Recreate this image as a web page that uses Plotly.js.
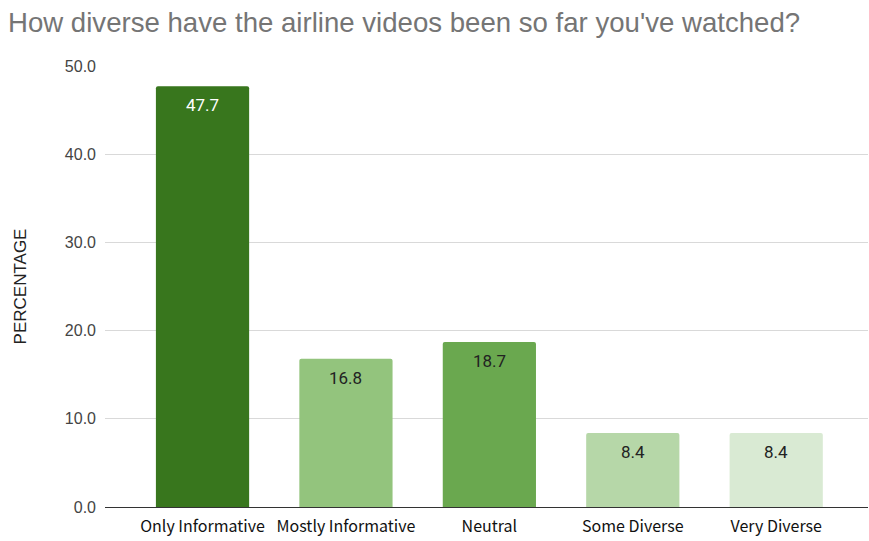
<!DOCTYPE html>
<html><head><meta charset="utf-8">
<script src="https://cdn.plot.ly/plotly-3.0.1.min.js"></script>
<style>body{margin:0;background:#fff}#chart{width:869px;height:541px}</style>
</head><body><div id="chart"></div>
<script>
const categories = ["Only Informative", "Mostly Informative", "Neutral", "Some Diverse", "Very Diverse"];
const percentages = [47.7, 16.8, 18.7, 8.4, 8.4];
const barColors = ["#38761d", "#93c47d", "#6aa84f", "#b6d7a8", "#d9ead3"];
const labelColors = ["#ffffff", "#222222", "#222222", "#222222", "#222222"];
const yTicks = [0, 10, 20, 30, 40, 50];
const yTickText = ["0.0", "10.0", "20.0", "30.0", "40.0", "50.0"];

const trace = {
  type: "bar",
  x: categories.map((c, i) => i),
  y: percentages,
  width: 0.65,
  marker: {color: barColors, cornerradius: 2, line: {width: 0}},
  hoverinfo: "none"
};

const annotations = percentages.map((v, i) => ({
  x: i, y: v, xref: "x", yref: "y",
  text: v.toFixed(1), showarrow: false,
  yanchor: "middle", xanchor: "center", yshift: -19,
  font: {family: "Roboto, sans-serif", size: 17, color: labelColors[i]}
}));

const layout = {
  width: 869, height: 541,
  margin: {l: 105, r: 1, t: 66, b: 34, pad: 0},
  paper_bgcolor: "#fff", plot_bgcolor: "#fff",
  showlegend: false,
  annotations: annotations,
  title: {text: "How diverse have the airline videos been so far you've watched?",
    font: {family: "Liberation Sans, Arial, sans-serif", size: 27.6, color: "#757575"},
    x: 8/869, xanchor: "left", xref: "container", y: 1 - 22/541, yanchor: "middle", yref: "container"},
  xaxis: {
    range: [-0.68, 4.64],
    tickvals: [0, 1, 2, 3, 4], ticktext: categories,
    tickfont: {family: "Noto Sans CJK KR, sans-serif", size: 16, color: "#111"},
    showgrid: false, zeroline: false, showline: false, ticks: "", ticklen: 0,
    ticklabelstandoff: 8,
    fixedrange: true
  },
  yaxis: {
    range: [0, 50], tickvals: yTicks, ticktext: yTickText,
    tickfont: {family: "Liberation Sans, Arial, sans-serif", size: 16, color: "#444"},
    showgrid: true, gridcolor: "#d9d9d9", gridwidth: 1,
    zeroline: true, zerolinecolor: "#333", zerolinewidth: 1,
    ticks: "", ticklabelstandoff: 8,
    title: {text: "PERCENTAGE", font: {family: "Liberation Sans, Arial, sans-serif", size: 17, color: "#222"}, standoff: 33},
    fixedrange: true
  },
  font: {family: "Liberation Sans, Arial, sans-serif"}
};

Plotly.newPlot("chart", [trace], layout, {displayModeBar: false, staticPlot: true});
</script></body></html>
